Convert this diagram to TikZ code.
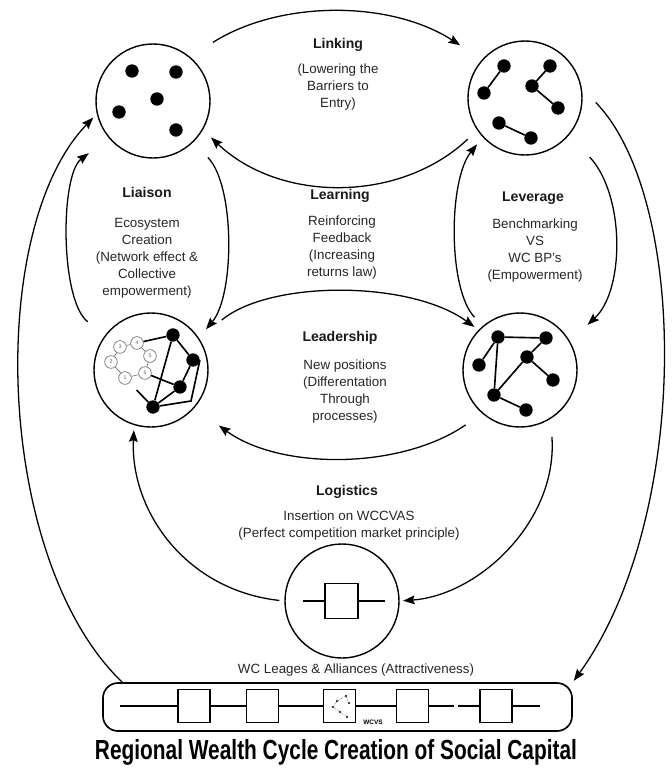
\documentclass[tikz,border=0pt]{standalone}
\usepackage{fontspec}
\setmainfont{Liberation Sans}
\usepackage{graphicx}
\usetikzlibrary{arrows.meta}

\begin{document}
\begin{tikzpicture}[x=0.03cm,y=-0.03cm,
  stage/.style={circle,draw,line width=1.2pt,minimum size=3.42cm,inner sep=0pt},
  blob/.style={circle,fill=black,inner sep=0pt,minimum size=0.4cm},
  pin/.style={circle,fill=black,inner sep=0pt,minimum size=0.07cm},
  ringnode/.style={circle,draw=black!55,line width=0.6pt,fill=white,inner sep=0pt,minimum size=0.38cm,
    font=\fontsize{4.5}{4.5}\selectfont,text=black!60},
  sq/.style={draw,line width=1.2pt,minimum width=0.96cm,minimum height=0.99cm,inner sep=0pt},
  wire/.style={line width=1.2pt},
  link/.style={line width=1.4pt},
  flow/.style={line width=1.1pt,-{Stealth[length=10pt,width=7.5pt,inset=1.5pt]}},
  lbl/.style={font=\fontsize{12}{14}\selectfont\bfseries,text=black!90},
  txt/.style={font=\fontsize{11.4}{14.5}\selectfont,align=center,text=black!85}]
  \useasboundingbox (0,0) rectangle (672,776);

  % the five stages
  \node[stage] (s1) at (153,101) {};
  \node[stage] (s2) at (525,98) {};
  \node[stage] (s3) at (151,370) {};
  \node[stage] (s4) at (520,370) {};
  \node[stage] (s5) at (342,601) {};

  % scattered actors
  \node[blob] (p1) at (132,71) {};
  \node[blob] (p2) at (176,72) {};
  \node[blob] (p3) at (157,99) {};
  \node[blob] (p4) at (119,112) {};
  \node[blob] (p5) at (176,130) {};

  % pairs
  \node[blob] (a1) at (504,66) {};
  \node[blob] (a2) at (484,93) {};
  \node[blob] (a3) at (550,66) {};
  \node[blob] (a4) at (532,86) {};
  \node[blob] (a5) at (558,108) {};
  \node[blob] (a6) at (499,123) {};
  \node[blob] (a7) at (531,138) {};
  \draw[link] (a1) -- (a2);
  \draw[link] (a3) -- (a4);
  \draw[link] (a4) -- (a5);
  \draw[link] (a6) -- (a7);

  % ecosystem
  \node[ringnode] (r1) at (120,347) {3};
  \node[ringnode] (r2) at (137,343) {4};
  \node[ringnode] (r3) at (150,356) {5};
  \node[ringnode] (r4) at (145,373) {6};
  \node[ringnode] (r5) at (125,378) {1};
  \node[ringnode] (r6) at (111,362) {2};
  \draw[black!55,line width=0.6pt] (r1) -- (r2) -- (r3) -- (r4) -- (r5) -- (r6) -- (r1);
  \node[blob] (d1) at (173,335) {};
  \node[blob] (d2) at (193,360) {};
  \node[blob] (d3) at (180,387) {};
  \node[blob] (d4) at (153,407) {};
  \coordinate (dk) at (191,401);
  \draw[link] (r2) -- (d1);
  \draw[link] (d1) -- (d2);
  \draw[link] (d1) -- (d4);
  \draw[link] (d2) -- (d3);
  \draw[link] (d3) -- (d4);
  \draw[link] (r4) -- (d3);
  \draw[link,shorten <=0.3cm] (r5) -- (d4);
  \draw[link] (d2.east) -- (dk) -- (d4);

  % network
  \node[blob] (e1) at (498,337) {};
  \node[blob] (e2) at (546,338) {};
  \node[blob] (e3) at (479,365) {};
  \node[blob] (e4) at (527,357) {};
  \node[blob] (e5) at (553,380) {};
  \node[blob] (e6) at (494,395) {};
  \node[blob] (e7) at (526,410) {};
  \draw[link] (e1) -- (e2);
  \draw[link] (e1) -- (e3);
  \draw[link] (e1) -- (e6);
  \draw[link] (e2) -- (e4);
  \draw[link] (e4) -- (e5);
  \draw[link] (e4) -- (e6);
  \draw[link] (e6) -- (e7);

  % value chain insertion
  \node[sq,minimum width=0.99cm,minimum height=1.05cm] (q) at (341.5,601) {};
  \coordinate (ql) at (303,601);
  \coordinate (qr) at (385,601);
  \draw[wire] (ql) -- (q) -- (qr);

  % leagues and alliances
  \node[draw,line width=1.4pt,rounded corners=0.45cm,minimum width=14.07cm,minimum height=1.44cm] (chain) at (337.5,707) {};
  \node[sq] (b1) at (194,706) {};
  \node[sq] (b2) at (262.5,706) {};
  \node[sq] (b3) at (339.5,706) {};
  \node[sq] (b4) at (412.5,706) {};
  \node[sq] (b5) at (496,706) {};
  \coordinate (cl) at (120,706);
  \coordinate (g1) at (454,706);
  \coordinate (g2) at (458,706);
  \coordinate (cr) at (540,706);
  \draw[wire] (cl) -- (b1) (b1) -- (b2) (b2) -- (b3) (b3) -- (b4) (b4) -- (g1) (g2) -- (b5) (b5) -- (cr);
  \node[pin] (w1) at (337,701) {};
  \node[pin] (w2) at (346,696) {};
  \node[pin] (w3) at (349,703) {};
  \node[pin] (w4) at (333,707) {};
  \node[pin] (w5) at (340,712) {};
  \node[pin] (w6) at (347,717) {};
  \draw[densely dotted,line width=0.4pt] (w1) -- (w2) -- (w3) (w1) -- (w4) -- (w5) -- (w6);
  \node[font=\fontsize{5.5}{6}\selectfont\bfseries] (wcvs) at (373,722) {WCVS};

  % cycle
  \draw[flow,shorten <=0.81cm,shorten >=0.78cm] (s1.50) .. controls (280,0) and (390,0) .. (s2.138);
  \draw[flow,shorten <=0.39cm,shorten >=0.33cm] (s2.214) .. controls (400,203) and (280,203) .. (s1.330);
  \draw[flow,shorten <=0.66cm,shorten >=0.75cm] (s3.143) .. controls (60,300) and (60,175) .. (s1.220);
  \draw[flow,shorten <=0.63cm,shorten >=0.33cm] (s1.314) .. controls (235,185) and (235,295) .. (s3.34);
  \draw[flow,shorten <=0.36cm,shorten >=0.27cm] (s4.130) .. controls (448,290) and (448,180) .. (s2.223);
  \draw[flow,shorten <=0.9cm,shorten >=0.72cm] (s2.320) .. controls (625,195) and (625,290) .. (s4.30);
  \draw[flow,shorten <=0.87cm,shorten >=0.15cm] (s3.33) .. controls (270,280) and (410,280) .. (s4.136);
  \draw[flow,shorten <=0.6cm,shorten >=0.9cm] (s4.229) .. controls (400,470) and (280,470) .. (s3.319);
  \draw[flow,shorten <=0.15cm,shorten >=0.15cm] (s5.180) .. controls (185,590) and (130,510) .. (s3.253);
  \draw[flow,shorten <=0.54cm,shorten >=0.1cm] (s4.302) .. controls (558,520) and (480,595) .. (s5.0);
  \draw[flow,shorten >=0.15cm] ([xshift=0.6cm]chain.north west) .. controls (-5,560) and (-15,230) .. (s1.193);
  \draw[flow,shorten <=0.6cm,shorten >=0.05cm] (s2.10) .. controls (690,200) and (690,520) .. (chain.north east);

  % texts
  \node[lbl] (tlink) at (338,45) {Linking};
  \node[txt] (dlink) at (338,87) {(Lowering the\\Barriers to\\Entry)};
  \node[lbl] (tliai) at (147,192) {Liaison};
  \node[txt] (dliai) at (147,258) {Ecosystem\\Creation\\(Network effect \&\\Collective\\empowerment)};
  \node[lbl] (tlearn) at (340,196) {Learning};
  \node[txt] (dlearn) at (342,248) {Reinforcing\\Feedback\\(Increasing\\returns law)};
  \node[lbl] (tlev) at (533,198) {Leverage};
  \node[txt] (dlev) at (535,251) {Benchmarking\\VS\\WC BP’s\\(Empowerment)};
  \node[lbl] (tlead) at (340,338) {Leadership};
  \node[txt] (dlead) at (345,392) {New positions\\(Differentation\\Through\\processes)};
  \node[lbl] (tlog) at (347,492) {Logistics};
  \node[txt] (dlog) at (349,526) {Insertion on WCCVAS\\(Perfect competition market principle)};
  \node[txt] (tall) at (356,670) {WC Leages \& Alliances (Attractiveness)};
  \node (title) at (336,752) {\resizebox{14.46cm}{0.6cm}{\bfseries Regional Wealth Cycle Creation of Social Capital}};
\end{tikzpicture}
\end{document}
